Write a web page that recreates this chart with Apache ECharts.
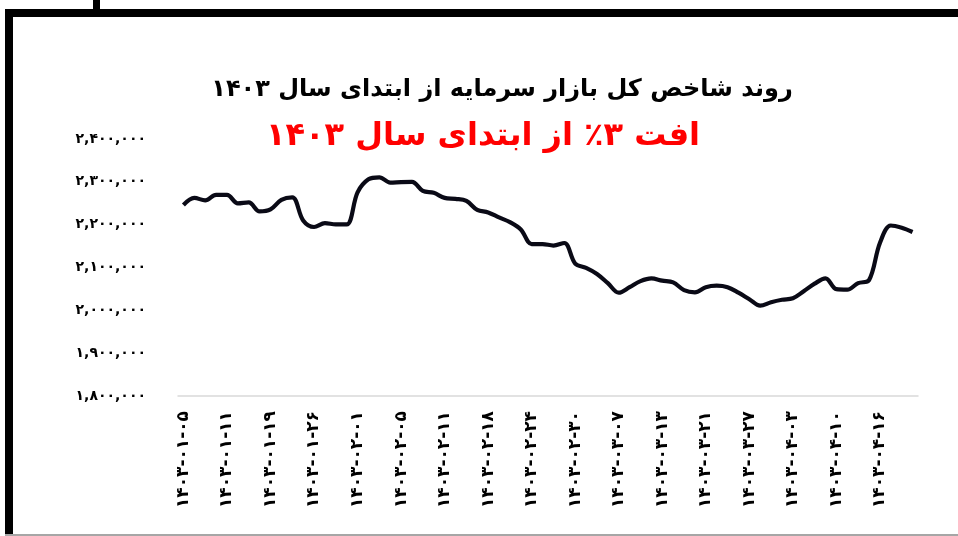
<!DOCTYPE html>
<html>
<head>
<meta charset="utf-8">
<script src="https://cdn.jsdelivr.net/npm/echarts@6/dist/echarts.min.js"></script>
<style>
  html, body { margin: 0; padding: 0; background: #fff; }
  #main { width: 958px; height: 536px; }
</style>
</head>
<body>
<div id="main"></div>
<script>
// تاریخ های معاملاتی (روزهای کاری بورس)
var dates = [
  "1403-01-05", "1403-01-06", "1403-01-07", "1403-01-08",
  "1403-01-11", "1403-01-14", "1403-01-15", "1403-01-18",
  "1403-01-19", "1403-01-20", "1403-01-21", "1403-01-25",
  "1403-01-26", "1403-01-27", "1403-01-28", "1403-01-29",
  "1403-02-01", "1403-02-02", "1403-02-03", "1403-02-04",
  "1403-02-05", "1403-02-08", "1403-02-09", "1403-02-10",
  "1403-02-11", "1403-02-12", "1403-02-16", "1403-02-17",
  "1403-02-18", "1403-02-19", "1403-02-22", "1403-02-23",
  "1403-02-24", "1403-02-25", "1403-02-26", "1403-02-29",
  "1403-02-30", "1403-03-01", "1403-03-05", "1403-03-06",
  "1403-03-07", "1403-03-08", "1403-03-09", "1403-03-12",
  "1403-03-13", "1403-03-16", "1403-03-19", "1403-03-20",
  "1403-03-21", "1403-03-22", "1403-03-23", "1403-03-26",
  "1403-03-27", "1403-03-29", "1403-03-30", "1403-04-02",
  "1403-04-03", "1403-04-04", "1403-04-06", "1403-04-09",
  "1403-04-10", "1403-04-11", "1403-04-12", "1403-04-13",
  "1403-04-16", "1403-04-17", "1403-04-18", "1403-04-19"
];

// شاخص کل
var indexValues = [
  2246000, 2262500, 2256700, 2269600, 2269600, 2249700, 2252000, 2230900, 2235600, 2257900,
  2263700, 2209900, 2194600, 2203500, 2200500, 2200500, 2275400, 2305900, 2310600, 2298100,
  2299500, 2300000, 2278900, 2274300, 2262500, 2260200, 2255500, 2234400, 2228600, 2216900,
  2205900, 2188800, 2154800, 2154800, 2151300, 2157200, 2109100, 2099100, 2085000, 2063500,
  2041200, 2054100, 2068200, 2074500, 2069300, 2065300, 2047100, 2041900, 2054100, 2057600,
  2054100, 2041200, 2026000, 2010800, 2019000, 2024800, 2028300, 2044700, 2062300, 2074500,
  2049400, 2048300, 2063500, 2070500, 2157200, 2198100, 2192800, 2182900
];

var yMin = 1800000;
var yMax = 2400000;
var yStep = 100000;

var titleText = "روند شاخص کل بازار سرمایه از ابتدای سال ۱۴۰۳";
var subText = "افت ۳٪ از ابتدای سال ۱۴۰۳";

var faDigits = ["۰", "۱", "۲", "۳", "۴", "۵", "۶", "۷", "۸", "۹"];

function toFa(str) {
  return String(str).replace(/[0-9]/g, function (d) {
    return faDigits[+d];
  });
}

function formatNumber(v) {
  var s = String(v).replace(/\B(?=(\d{3})+(?!\d))/g, ",");
  return toFa(s);
}

function formatDate(d) {
  // LRM keeps 1403 on the left
  return d.split("-").map(toFa).join("\u200E-\u200E");
}

function index_chart_init() {
  var myChart = echarts.init(document.getElementById('main'));
  var option = {
    backgroundColor: '#ffffff',
    animation: false,
    title: [
      {
        text: titleText,
        left: 497,
        top: 73,
        textAlign: 'center',
        textStyle: {
          fontFamily: 'DejaVu Sans',
          fontWeight: 'bold',
          fontSize: 24,
          color: '#000000'
        }
      },
      {
        text: subText,
        left: 478,
        top: 116,
        textAlign: 'center',
        textStyle: {
          fontFamily: 'DejaVu Sans',
          fontWeight: 'bold',
          fontSize: 32,
          color: '#ff0000'
        }
      }
    ],
    graphic: [
      { type: 'rect', shape: { x: 5, y: 9, width: 953, height: 8 }, style: { fill: '#000' } },
      { type: 'rect', shape: { x: 5, y: 9, width: 8, height: 527 }, style: { fill: '#000' } },
      { type: 'rect', shape: { x: 93, y: 0, width: 7, height: 17 }, style: { fill: '#000' } },
      { type: 'rect', shape: { x: 5, y: 534, width: 953, height: 2 }, style: { fill: '#a6a6a6' } }
    ],
    grid: {
      left: 178,
      right: 40,
      top: 139,
      bottom: 140
    },
    xAxis: {
      type: 'category',
      data: dates,
      boundaryGap: true,
      axisLine: { lineStyle: { color: '#d9d9d9', width: 1.5 } },
      axisTick: { show: false },
      axisLabel: {
        interval: 3,
        rotate: 90,
        margin: 15,
        fontFamily: 'DejaVu Sans',
        fontWeight: 'bold',
        fontSize: 17,
        color: '#000',
        formatter: formatDate
      }
    },
    yAxis: {
      type: 'value',
      min: yMin,
      max: yMax,
      interval: yStep,
      axisLine: { show: false },
      axisTick: { show: false },
      splitLine: { show: false },
      axisLabel: {
        margin: 32,
        fontFamily: 'DejaVu Sans',
        fontWeight: 'bold',
        fontSize: 14,
        color: '#000',
        formatter: formatNumber
      }
    },
    series: [{
      type: 'line',
      data: indexValues,
      smooth: 0.35,
      symbol: 'none',
      lineStyle: { color: '#0a0a16', width: 4.2 }
    }]
  };
  myChart.setOption(option, true);
}

index_chart_init();
</script>
</body>
</html>
